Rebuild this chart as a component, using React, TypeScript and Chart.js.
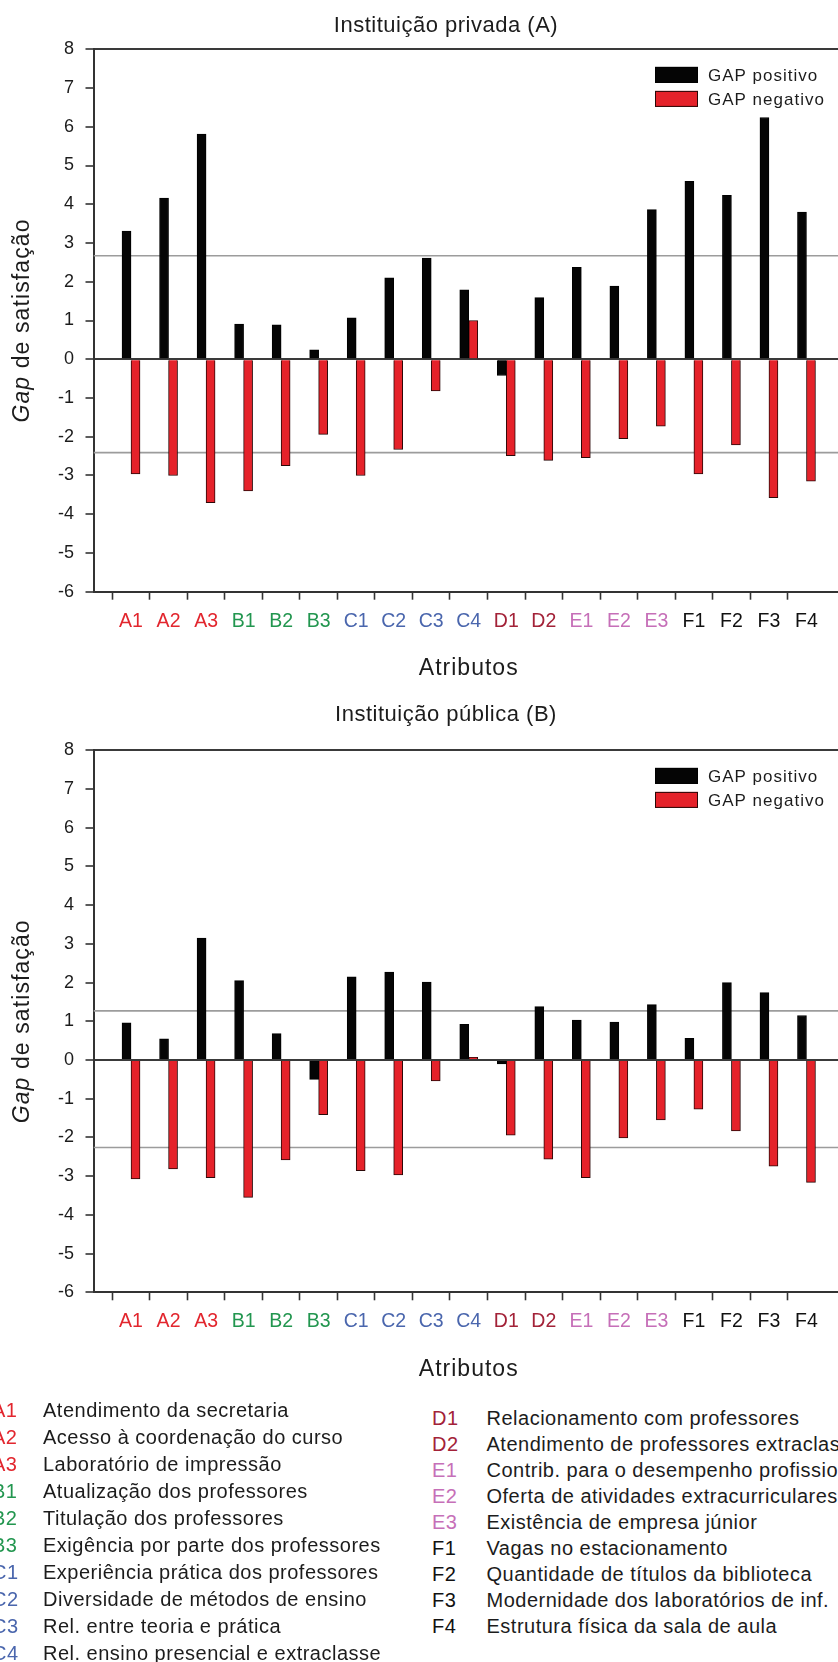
import React, { useEffect, useRef } from 'react';
import { Chart, registerables } from 'chart.js';

Chart.register(...registerables);

const FONT = "'Liberation Sans', Arial, Helvetica, sans-serif";

// ---------- data ----------
const categories = ['A1', 'A2', 'A3', 'B1', 'B2', 'B3', 'C1', 'C2', 'C3', 'C4', 'D1', 'D2', 'E1', 'E2', 'E3', 'F1', 'F2', 'F3', 'F4'];
const seriesLabels = ['GAP positivo', 'GAP negativo'];

const privatePositive = [3.31, 4.16, 5.81, 0.91, 0.89, 0.24, 1.07, 2.1, 2.61, 1.79, -0.42, 1.59, 2.37, 1.89, 3.86, 4.59, 4.23, 6.24, 3.8];
const privateNegative = [-2.96, -3.0, -3.7, -3.4, -2.75, -1.94, -3.0, -2.33, -0.82, 1.0, -2.49, -2.61, -2.54, -2.05, -1.73, -2.96, -2.21, -3.57, -3.15];
const privateRefLines = [2.67, -2.41];

const publicPositive = [0.96, 0.55, 3.15, 2.05, 0.68, -0.5, 2.15, 2.27, 2.01, 0.92, -0.1, 1.38, 1.03, 0.98, 1.43, 0.56, 2.0, 1.74, 1.15];
const publicNegative = [-3.07, -2.81, -3.04, -3.55, -2.58, -1.41, -2.86, -2.97, -0.54, 0.07, -1.94, -2.56, -3.04, -2.01, -1.55, -1.27, -1.83, -2.74, -3.16];
const publicRefLines = [1.27, -2.26];

const yMin = -6;
const yMax = 8;

const groupColors: Record<string, string> = {
  A: '#e2262e',
  B: '#22964f',
  C: '#4a66ad',
  D: '#a32238',
  E: '#c66fb8',
  F: '#111111',
};

const leftDescriptions: [string, string][] = [
  ['A1', 'Atendimento da secretaria'],
  ['A2', 'Acesso à coordenação do curso'],
  ['A3', 'Laboratório de impressão'],
  ['B1', 'Atualização dos professores'],
  ['B2', 'Titulação dos professores'],
  ['B3', 'Exigência por parte dos professores'],
  ['C1', 'Experiência prática dos professores'],
  ['C2', 'Diversidade de métodos de ensino'],
  ['C3', 'Rel. entre teoria e prática'],
  ['C4', 'Rel. ensino presencial e extraclasse'],
];
const rightDescriptions: [string, string][] = [
  ['D1', 'Relacionamento com professores'],
  ['D2', 'Atendimento de professores extraclasse'],
  ['E1', 'Contrib. para o desempenho profissional'],
  ['E2', 'Oferta de atividades extracurriculares'],
  ['E3', 'Existência de empresa júnior'],
  ['F1', 'Vagas no estacionamento'],
  ['F2', 'Quantidade de títulos da biblioteca'],
  ['F3', 'Modernidade dos laboratórios de inf.'],
  ['F4', 'Estrutura física da sala de aula'],
];

// ---------- chart ----------
const CANVAS_W = 880;
const CANVAS_H = 700;
const AXIS_COLOR = '#333333';

type GapProps = {
  top: number;
  title: string;
  titleBaseline: number;
  plotTop: number;
  plotBottom: number;
  positive: number[];
  negative: number[];
  refLines: number[];
};

function GapChart({ top, title, titleBaseline, plotTop, plotBottom, positive, negative, refLines }: GapProps) {
  const ref = useRef<HTMLCanvasElement | null>(null);

  useEffect(() => {
    const canvas = ref.current;
    if (!canvas) return;

    const decorations = {
      id: 'decorations',
      afterDraw(chart: any) {
        const { ctx, chartArea } = chart;
        ctx.save();
        ctx.fillStyle = '#1c1c1c';

        // chart title
        ctx.font = `22px ${FONT}`;
        (ctx as any).letterSpacing = '0.5px';
        ctx.textAlign = 'center';
        ctx.textBaseline = 'alphabetic';
        ctx.fillText(title, 446, titleBaseline);

        // x axis title
        ctx.font = `23px ${FONT}`;
        (ctx as any).letterSpacing = '1px';
        ctx.fillText('Atributos', (chartArea.left + chartArea.right) / 2, chartArea.bottom + 83.3);

        // y axis title with italic "Gap"
        const cy = (chartArea.top + chartArea.bottom) / 2;
        ctx.save();
        ctx.translate(29, cy);
        ctx.rotate(-Math.PI / 2);
        (ctx as any).letterSpacing = '1.1px';
        ctx.textAlign = 'left';
        ctx.font = `italic 23px ${FONT}`;
        const w1 = ctx.measureText('Gap').width;
        ctx.font = `23px ${FONT}`;
        const w2 = ctx.measureText(' de satisfação').width;
        const start = -(w1 + w2) / 2;
        ctx.font = `italic 23px ${FONT}`;
        ctx.fillText('Gap', start, 0);
        ctx.font = `23px ${FONT}`;
        ctx.fillText(' de satisfação', start + w1, 0);
        ctx.restore();

        // legend
        ctx.font = `17px ${FONT}`;
        (ctx as any).letterSpacing = '1px';
        ctx.textAlign = 'left';
        ctx.textBaseline = 'middle';
        const bars = chart.data.datasets.filter((d: any) => d.type === 'bar');
        bars.forEach((d: any, i: number) => {
          const y = chartArea.top + 17.6 + i * 24;
          ctx.fillStyle = d.backgroundColor;
          ctx.fillRect(655, y, 43, 16);
          ctx.strokeStyle = d.borderColor;
          ctx.lineWidth = 1;
          ctx.strokeRect(655.5, y + 0.5, 42, 15);
          ctx.fillStyle = '#1c1c1c';
          ctx.fillText(d.label, 708, y + 9);
        });
        ctx.restore();
      },
    };

    const chart = new Chart(canvas, {
      type: 'bar',
      data: {
        datasets: [
          {
            type: 'bar',
            label: seriesLabels[0],
            data: positive.map((v, i) => ({ x: i + 1, y: v })),
            backgroundColor: '#050505',
            borderColor: '#000000',
            borderWidth: 1,
            barThickness: 9,
            order: 1,
          },
          {
            type: 'bar',
            label: seriesLabels[1],
            data: negative.map((v, i) => ({ x: i + 1, y: v })),
            backgroundColor: '#e5222a',
            borderColor: '#2a0808',
            borderWidth: 1,
            barThickness: 9,
            order: 1,
          },
          ...refLines.map((v) => ({
            type: 'line' as const,
            label: 'ref',
            data: [
              { x: 0, y: v },
              { x: categories.length + 1, y: v },
            ],
            borderColor: '#9c9c9c',
            borderWidth: 1.6,
            pointRadius: 0,
            order: 2,
          })),
        ] as any,
      },
      options: {
        responsive: false,
        animation: false,
        events: [],
        layout: { padding: { top: plotTop, right: CANVAS_W - 844, left: 0, bottom: 0 } },
        plugins: {
          legend: { display: false },
          tooltip: { enabled: false },
          title: { display: false },
        },
        scales: {
          x: {
            type: 'linear',
            min: 0,
            max: categories.length + 1,
            offset: false,
            afterFit: (s: any) => {
              s.height = CANVAS_H - plotBottom;
            },
            ticks: {
              stepSize: 1,
              autoSkip: false,
              maxRotation: 0,
              padding: 10,
              font: { family: FONT, size: 19.5 },
              color: (c: any) => {
                const lab = categories[c.tick.value - 1];
                return lab ? groupColors[lab[0]] : 'transparent';
              },
              callback: (v: any) => categories[Number(v) - 1] ?? '',
            },
            grid: {
              drawOnChartArea: false,
              drawTicks: true,
              tickLength: 8,
              tickWidth: 1.6,
              tickColor: (c: any) => (c.tick && c.tick.value >= 1 && c.tick.value <= categories.length ? AXIS_COLOR : 'transparent'),
            },
            border: { display: true, color: AXIS_COLOR, width: 2 },
          },
          y: {
            type: 'linear',
            min: yMin,
            max: yMax,
            afterFit: (s: any) => {
              s.width = 93.5;
            },
            ticks: {
              stepSize: 1,
              padding: 11.5,
              color: '#1c1c1c',
              font: { family: FONT, size: 18 },
            },
            grid: {
              drawOnChartArea: true,
              tickLength: 8,
              tickWidth: 1.6,
              tickColor: AXIS_COLOR,
              lineWidth: 2,
              color: (c: any) => (c.tick && (c.tick.value === 0 || c.tick.value === yMax) ? '#3a3a3a' : 'transparent'),
            },
            border: { display: true, color: AXIS_COLOR, width: 2 },
          },
        },
      } as any,
      plugins: [decorations],
    });

    return () => chart.destroy();
  }, []);

  return (
    <canvas
      ref={ref}
      width={CANVAS_W}
      height={CANVAS_H}
      style={{ position: 'absolute', left: 0, top, width: CANVAS_W, height: CANVAS_H }}
    />
  );
}

function DescriptionColumn({ items, codeLeft, textLeft, baseline0, step }: { items: [string, string][]; codeLeft: number; textLeft: number; baseline0: number; step: number }) {
  return (
    <>
      {items.map(([code, text], i) => {
        const topPx = baseline0 + i * step - 17;
        const common: React.CSSProperties = {
          position: 'absolute',
          top: topPx,
          fontFamily: FONT,
          fontSize: 20,
          lineHeight: '20px',
          letterSpacing: '0.5px',
          whiteSpace: 'nowrap',
        };
        return (
          <React.Fragment key={code}>
            <div style={{ ...common, left: codeLeft, color: groupColors[code[0]] }}>{code}</div>
            <div style={{ ...common, left: textLeft, color: '#1c1c1c' }}>{text}</div>
          </React.Fragment>
        );
      })}
    </>
  );
}

export default function App() {
  return (
    <div
      style={{
        position: 'absolute',
        left: 0,
        top: 0,
        width: 838,
        height: 1662,
        overflow: 'hidden',
        background: '#ffffff',
      }}
    >
      <GapChart
        top={0}
        title="Instituição privada (A)"
        titleBaseline={32.3}
        plotTop={49.3}
        plotBottom={591.7}
        positive={privatePositive}
        negative={privateNegative}
        refLines={privateRefLines}
      />
      <GapChart
        top={700}
        title="Instituição pública (B)"
        titleBaseline={20.5}
        plotTop={50.3}
        plotBottom={592.3}
        positive={publicPositive}
        negative={publicNegative}
        refLines={publicRefLines}
      />
      <DescriptionColumn items={leftDescriptions} codeLeft={-8} textLeft={43} baseline0={1417} step={27} />
      <DescriptionColumn items={rightDescriptions} codeLeft={432} textLeft={486.5} baseline0={1425} step={26} />
    </div>
  );
}
